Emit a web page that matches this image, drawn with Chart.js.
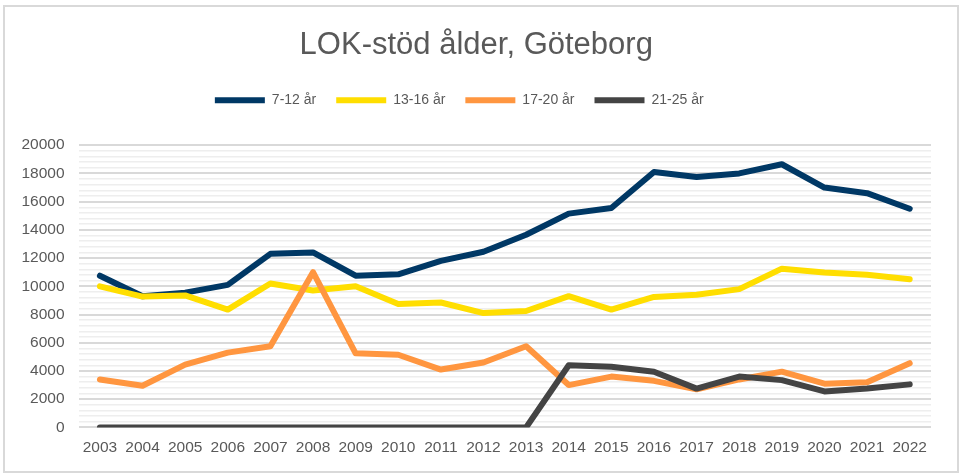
<!DOCTYPE html>
<html>
<head>
<meta charset="utf-8">
<script src="https://cdn.jsdelivr.net/npm/chart.js@4"></script>
<style>
  html, body { margin: 0; padding: 0; background: #fff; }
  #wrap { position: relative; width: 961px; height: 473px; }
  #frame { position: absolute; left: 3px; top: 5px; width: 956px; height: 468px;
           box-sizing: border-box; border: 2px solid #d9d9d9; pointer-events: none; }
</style>
</head>
<body>
<div id="wrap">
  <canvas id="grafico" width="961" height="473"></canvas>
  <div id="frame"></div>
</div>
<script>
const years = ['2003','2004','2005','2006','2007','2008','2009','2010','2011','2012',
               '2013','2014','2015','2016','2017','2018','2019','2020','2021','2022'];
const age7to12 = [10750, 9300, 9550, 10100, 12300, 12400, 10750, 10850, 11800, 12450,
                  13650, 15150, 15550, 18100, 17750, 18000, 18650, 17000, 16600, 15500];
const age13to16 = [10000, 9270, 9350, 8350, 10200, 9700, 10000, 8750, 8850, 8100,
                   8250, 9300, 8350, 9250, 9400, 9800, 11250, 10980, 10820, 10500];
const age17to20 = [3400, 2950, 4450, 5300, 5750, 11000, 5250, 5150, 4100, 4600,
                   5750, 3000, 3600, 3300, 2700, 3400, 3950, 3100, 3200, 4550];
const age21to25 = [0, 0, 0, 0, 0, 0, 0, 0, 0, 0,
                   0, 4400, 4300, 3950, 2750, 3600, 3350, 2550, 2750, 3050];
const seriesNames = ['7-12 år', '13-16 år', '17-20 år', '21-25 år'];
const seriesColors = ['#003865', '#FFDE00', '#FF9640', '#444444'];
const yMax = 20000;
const majorStep = 2000;
const minorStep = 400;

const font = 'Liberation Sans, Arial, sans-serif';
const textColor = '#595959';

function serie(i, data) {
    return {
        label: seriesNames[i],
        data: data,
        borderColor: seriesColors[i],
        backgroundColor: seriesColors[i],
        borderWidth: 6,
        borderCapStyle: 'round',
        borderJoinStyle: 'round',
        pointRadius: 0,
        pointHoverRadius: 0,
        pointStyle: 'line',
        tension: 0,
        fill: false,
        order: 4 - i
    };
}

// espacio extra bajo la leyenda; título y leyenda movidos en horizontal
const legendTweak = {
    id: 'legendTweak',
    beforeInit(chart) {
        const fit = chart.legend.fit;
        chart.legend.fit = function () {
            fit.bind(chart.legend)();
            this.height += 28;
        };
    },
    afterLayout(chart) {
        chart.legend.left -= 10;
        chart.legend.right -= 10;
        if (chart.titleBlock) {
            chart.titleBlock.left += 7;
            chart.titleBlock.right += 7;
        }
    }
};

const ctx = document.getElementById('grafico').getContext('2d');
new Chart(ctx, {
    type: 'line',
    data: {
        labels: years,
        datasets: [
            serie(0, age7to12),
            serie(1, age13to16),
            serie(2, age17to20),
            serie(3, age21to25)
        ]
    },
    options: {
        responsive: false,
        animation: false,
        layout: { padding: { top: 27, left: 7.5, right: 30, bottom: 13 } },
        plugins: {
            title: {
                display: true,
                text: 'LOK-stöd ålder, Göteborg',
                color: textColor,
                font: { family: font, size: 31, weight: 'normal' },
                padding: { top: 0, bottom: 9 }
            },
            legend: {
                position: 'top',
                labels: {
                    usePointStyle: true,
                    pointStyleWidth: 50,
                    padding: 20,
                    color: textColor,
                    font: { family: font, size: 14 },
                    sort: (a, b) => a.datasetIndex - b.datasetIndex
                }
            },
            tooltip: { enabled: false }
        },
        scales: {
            x: {
                offset: true,
                grid: { display: false },
                border: { display: false },
                ticks: {
                    color: textColor,
                    font: { family: font, size: 15.5 },
                    autoSkip: false,
                    maxRotation: 0,
                    padding: 3
                }
            },
            y: {
                min: 0,
                max: yMax,
                border: { display: false },
                grid: {
                    drawTicks: false,
                    color: c => (c.tick && c.tick.value % majorStep === 0) ? '#d9d9d9' : '#eeeeee',
                    lineWidth: c => (c.tick && c.tick.value % majorStep === 0) ? 2 : 1.5
                },
                ticks: {
                    stepSize: minorStep,
                    autoSkip: false,
                    color: textColor,
                    font: { family: font, size: 15.5 },
                    padding: 14,
                    callback: v => (v % majorStep === 0) ? String(v) : ''
                }
            }
        }
    },
    plugins: [legendTweak]
});
</script>
</body>
</html>
